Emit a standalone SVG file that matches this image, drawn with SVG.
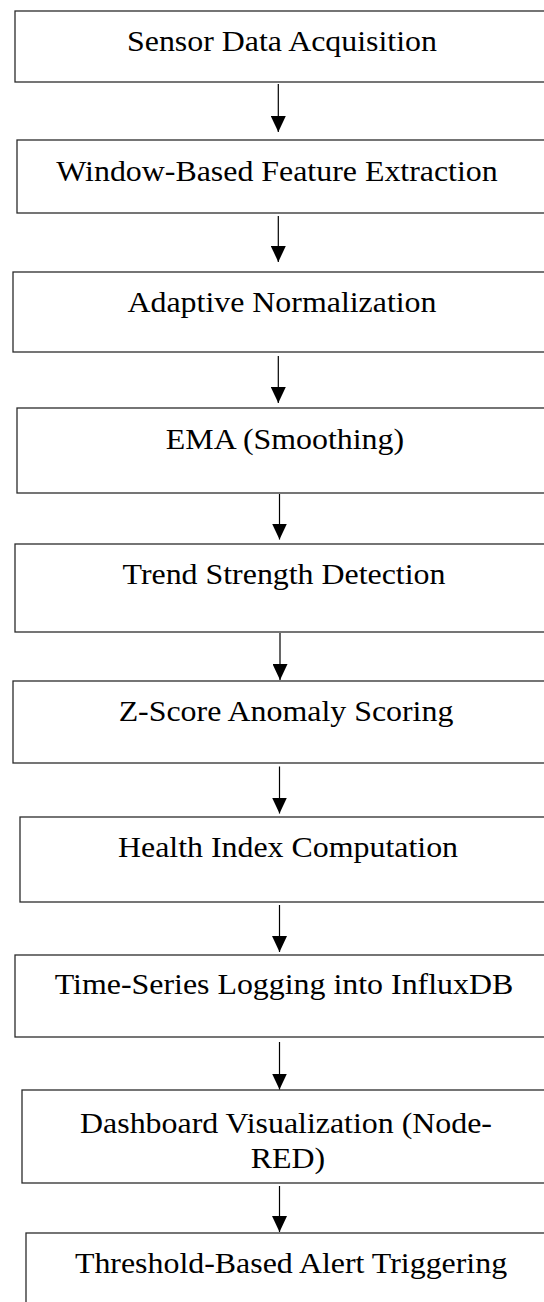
<svg xmlns="http://www.w3.org/2000/svg" width="544" height="1302" viewBox="0 0 544 1302">
  <style>
    .box { fill: #ffffff; stroke: #2b2b2b; stroke-width: 1.3; }
    .label { font-family: "Liberation Serif", "Times New Roman", serif; font-size: 29px; fill: #000000; text-anchor: middle; }
    .wire { stroke: #000000; stroke-width: 1.2; fill: none; }
  </style>
  <defs>
    <marker id="head" viewBox="0 0 16 15" refX="16" refY="7.5" markerWidth="16" markerHeight="15" markerUnits="userSpaceOnUse" orient="auto">
      <path d="M0,0 L16,7.5 L0,15 Z" fill="#000000"/>
    </marker>
  </defs>
  <rect width="544" height="1302" fill="#ffffff"/>

  <!-- process steps; labels are slightly widened serif text -->
  <g id="n1"><rect class="box" x="15" y="11" width="560" height="71"/><text class="label" transform="translate(282,51) scale(1.1,1)">Sensor Data Acquisition</text></g>
  <g id="n2"><rect class="box" x="17" y="140" width="560" height="73"/><text class="label" transform="translate(277,181) scale(1.1,1)">Window-Based Feature Extraction</text></g>
  <g id="n3"><rect class="box" x="13" y="272" width="560" height="80"/><text class="label" transform="translate(282,312) scale(1.1,1)">Adaptive Normalization</text></g>
  <g id="n4"><rect class="box" x="17" y="408" width="560" height="85"/><text class="label" transform="translate(285,449) scale(1.1,1)">EMA (Smoothing)</text></g>
  <g id="n5"><rect class="box" x="15" y="544" width="560" height="88"/><text class="label" transform="translate(284,584) scale(1.1,1)">Trend Strength Detection</text></g>
  <g id="n6"><rect class="box" x="13" y="681" width="560" height="82"/><text class="label" transform="translate(286,721) scale(1.1,1)">Z-Score Anomaly Scoring</text></g>
  <g id="n7"><rect class="box" x="20" y="817" width="560" height="85"/><text class="label" transform="translate(288,857) scale(1.1,1)">Health Index Computation</text></g>
  <g id="n8"><rect class="box" x="15" y="955" width="560" height="82"/><text class="label" transform="translate(284,994) scale(1.1,1)">Time-Series Logging into InfluxDB</text></g>
  <g id="n9"><rect class="box" x="22" y="1090" width="560" height="93"/><text class="label" transform="translate(286,1133) scale(1.1,1)">Dashboard Visualization (Node-<tspan x="1.8" y="35.5">RED)</tspan></text></g>
  <g id="n10"><rect class="box" x="26" y="1233" width="560" height="100"/><text class="label" transform="translate(291,1273) scale(1.1,1)">Threshold-Based Alert Triggering</text></g>

  <g id="connectors">
    <line class="wire" x1="278.3" y1="84" x2="278.3" y2="132" marker-end="url(#head)"/>
    <line class="wire" x1="278.3" y1="216" x2="278.3" y2="262" marker-end="url(#head)"/>
    <line class="wire" x1="278.3" y1="356" x2="278.3" y2="403" marker-end="url(#head)"/>
    <line class="wire" x1="279.5" y1="494" x2="279.5" y2="539.5" marker-end="url(#head)"/>
    <line class="wire" x1="280" y1="633" x2="280" y2="680" marker-end="url(#head)"/>
    <line class="wire" x1="279.5" y1="766.5" x2="279.5" y2="813.5" marker-end="url(#head)"/>
    <line class="wire" x1="279.5" y1="905" x2="279.5" y2="952" marker-end="url(#head)"/>
    <line class="wire" x1="279.5" y1="1042" x2="279.5" y2="1089.5" marker-end="url(#head)"/>
    <line class="wire" x1="279.5" y1="1186" x2="279.5" y2="1232" marker-end="url(#head)"/>
  </g>
</svg>
